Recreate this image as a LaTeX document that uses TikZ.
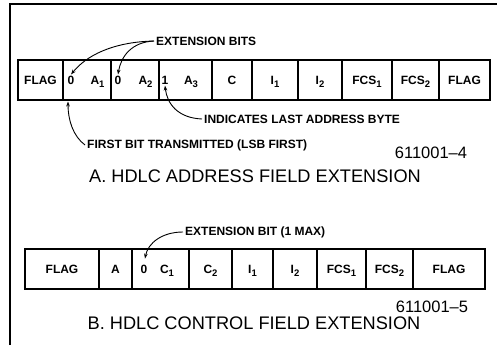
\documentclass[tikz,border=0pt]{standalone}
\usepackage{fontspec}
\setmainfont{Liberation Sans}
\usetikzlibrary{arrows.meta}
\newcommand\subs[1]{\raisebox{-0.45ex}{\fontsize{9.5}{10}\selectfont #1}}
\begin{document}
\begin{tikzpicture}[x=1pt,y=-1pt,
  cell/.style={draw, line width=1.6pt, minimum height=40pt, inner sep=0pt, text height=8.6pt, text depth=0pt, font=\fontsize{12}{14}\selectfont\bfseries},
  txt/.style={inner sep=1pt, text height=8.6pt, text depth=0pt, font=\fontsize{12}{14}\selectfont\bfseries},
  lbl/.style={inner sep=2pt, anchor=west, font=\fontsize{12}{14}\selectfont\bfseries},
  capt/.style={inner sep=0pt, font=\fontsize{18.2}{20}\selectfont},
  num/.style={inner sep=0pt, font=\fontsize{16.5}{19}\selectfont},
  arr/.style={line width=0.9pt, -{Stealth[length=5pt,width=3.6pt]}},
  frame/.style={line width=1.2pt}]
\useasboundingbox (0,0) rectangle (497,345);
% frame
\draw[frame] (10,345) -- (10,4) -- (497,4);

% ---- A: address field row ----
\node[cell, minimum width=45pt] (a1) at (40.5,80) {FLAG};
\node[cell, minimum width=48pt] (a2) at (87,80) {};
\node[cell, minimum width=48pt] (a3) at (135,80) {};
\node[cell, minimum width=53pt] (a4) at (185.5,80) {};
\node[cell, minimum width=40pt] (a5) at (232,80) {C};
\node[cell, minimum width=46pt] (a6) at (275,80) {I\subs{1}};
\node[cell, minimum width=44pt] (a7) at (320,80) {I\subs{2}};
\node[cell, minimum width=50pt] (a8) at (367,80) {FCS\subs{1}};
\node[cell, minimum width=47pt] (a9) at (415.5,80) {FCS\subs{2}};
\node[cell, minimum width=51pt] (a10) at (464.5,80) {FLAG};

\node[txt] (z1) at (71,80) {0};
\node[txt] (n1) at (97.5,80) {A\subs{1}};
\node[txt] (z2) at (118,80) {0};
\node[txt] (n2) at (145.5,80) {A\subs{2}};
\node[txt] (z3) at (165,80) {1};
\node[txt] (n3) at (191,80) {A\subs{3}};

\node[lbl] (ext1) at (154,41) {EXTENSION BITS};
\node[lbl] (ind) at (202,119) {INDICATES LAST ADDRESS BYTE};
\node[lbl] (first) at (85,145) {FIRST BIT TRANSMITTED (LSB FIRST)};
\coordinate (fbtip) at (68,101.5);

\draw[arr] (ext1.west) .. controls (112,42) and (86,56) .. (z1.north);
\draw[arr] (ext1.west) .. controls (132,42) and (121,56) .. (z2.north);
\draw[arr] (ind.west) .. controls (178,118) and (167,104) .. (z3.south);
\draw[arr] (first.west) .. controls (73,136) and (68,120) .. (fbtip);

\node[num] (numa) at (431,153) {611001--4};
\node[capt] (capa) at (255,176) {A. HDLC ADDRESS FIELD EXTENSION};

% ---- B: control field row ----
\node[cell, minimum width=74pt] (b1) at (62,269) {FLAG};
\node[cell, minimum width=33pt] (b2) at (115.5,269) {A};
\node[cell, minimum width=57pt] (b3) at (160.5,269) {};
\node[cell, minimum width=43pt] (b4) at (210.5,269) {C\subs{2}};
\node[cell, minimum width=41pt] (b5) at (252.5,269) {I\subs{1}};
\node[cell, minimum width=44pt] (b6) at (295,269) {I\subs{2}};
\node[cell, minimum width=49pt] (b7) at (341.5,269) {FCS\subs{1}};
\node[cell, minimum width=47pt] (b8) at (389.5,269) {FCS\subs{2}};
\node[cell, minimum width=72pt] (b9) at (449,269) {FLAG};

\node[txt] (bz) at (144,269) {0};
\node[txt] (bc) at (167,269) {C\subs{1}};

\node[lbl] (ext2) at (183,232) {EXTENSION BIT (1 MAX)};
\draw[arr, shorten >=5pt] (ext2.west) .. controls (162,232) and (148,243) .. (bz.north);

\node[num] (numb) at (432,307) {611001--5};
\node[capt] (capb) at (254,323) {B. HDLC CONTROL FIELD EXTENSION};
\end{tikzpicture}
\end{document}
